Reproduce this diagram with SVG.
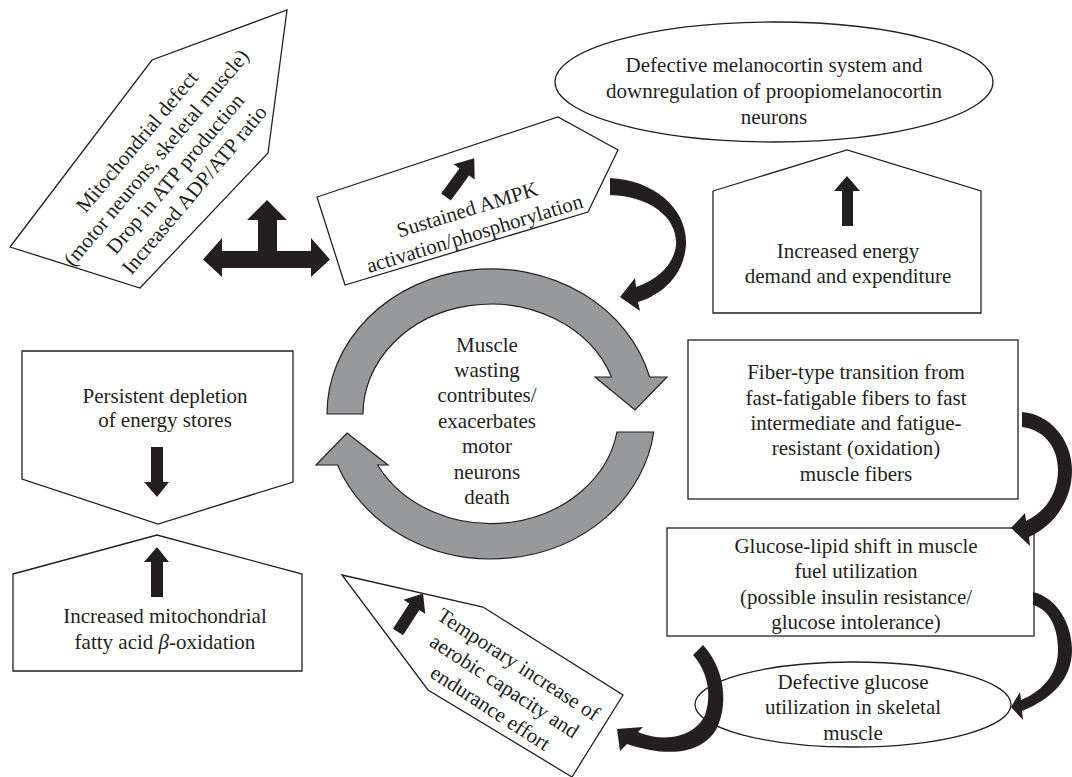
<svg xmlns="http://www.w3.org/2000/svg" width="1072" height="777" viewBox="0 0 1072 777">
<defs>
<style>
.box{fill:#fff;stroke:#231f20;stroke-width:1.3}
.t{font-family:"Liberation Serif","Times New Roman",serif;font-size:21px;fill:#231f20;text-anchor:middle}
.blk{fill:#231f20;stroke:none}
.gray{fill:#98999b;stroke:#231f20;stroke-width:1.2}
</style>
</defs>
<rect width="1072" height="777" fill="#fff"/>

<g id="node-mito">
<polygon class="box" points="10,247 152,60 287,10 268,153 140,288"/>
<g transform="translate(166,166) rotate(-50)">
<text class="t" x="0" y="-31">Mitochondrial defect</text>
<text class="t" x="0" y="-6">(motor neurons, skeletal muscle)</text>
<text class="t" x="0" y="19">Drop in ATP production</text>
<text class="t" x="0" y="44">Increased ADP/ATP ratio</text>
</g>
</g>

<g id="node-ampk">
<polygon class="box" points="317,197 558,117 618,150 588,212 345,285"/>
<polygon class="blk" transform="translate(446,197) rotate(36)" points="-6,0 -6,-31 -13,-31 0,-48 13,-31 6,-31 6,0"/>
<g transform="translate(471,222) rotate(-17)">
<text class="t" x="0" y="-6">Sustained AMPK</text>
<text class="t" x="0" y="19">activation/phosphorylation</text>
</g>
</g>

<g id="node-melanocortin">
<ellipse class="box" cx="774" cy="82" rx="219" ry="60"/>
<text class="t" x="774" y="72">Defective melanocortin system and</text>
<text class="t" x="774" y="98">downregulation of proopiomelanocortin</text>
<text class="t" x="774" y="124">neurons</text>
</g>

<g id="node-energy-demand">
<polygon class="box" points="713,191 847,150 981,191 981,313 713,313"/>
<polygon class="blk" points="842,226 842,191 834,191 847,176 860,191 853,191 853,226"/>
<text class="t" x="848" y="258">Increased energy</text>
<text class="t" x="848" y="283">demand and expenditure</text>
</g>

<g id="node-cycle">
<path class="gray" d="M327,414 A164,145 0 0 1 649.6,377 L667,377 L635,410 L595,377 L611.5,377 A128,110 0 0 0 363,414 Z"/>
<path class="gray" d="M653.7,432 A164,145 0 0 1 337.5,465 L316,465 L347,433 L388,465 L377.6,465 A128,110 0 0 0 617,432 Z"/>
<text class="t" x="487" y="352">Muscle</text>
<text class="t" x="487" y="377">wasting</text>
<text class="t" x="487" y="402">contributes/</text>
<text class="t" x="487" y="428">exacerbates</text>
<text class="t" x="487" y="453">motor</text>
<text class="t" x="487" y="479">neurons</text>
<text class="t" x="487" y="504">death</text>
</g>

<g id="node-fiber">
<rect class="box" x="688" y="340" width="330" height="159"/>
<text class="t" x="856" y="379">Fiber-type transition from</text>
<text class="t" x="856" y="405">fast-fatigable fibers to fast</text>
<text class="t" x="856" y="430">intermediate and fatigue-</text>
<text class="t" x="856" y="455">resistant (oxidation)</text>
<text class="t" x="856" y="481">muscle fibers</text>
</g>

<g id="node-glucose-lipid">
<rect class="box" x="667" y="528" width="367" height="108"/>
<text class="t" x="856" y="553">Glucose-lipid shift in muscle</text>
<text class="t" x="856" y="578">fuel utilization</text>
<text class="t" x="856" y="604">(possible insulin resistance/</text>
<text class="t" x="856" y="629">glucose intolerance)</text>
</g>

<g id="node-defective-glucose">
<ellipse class="box" cx="853" cy="704.5" rx="158" ry="42.5"/>
<text class="t" x="853" y="689">Defective glucose</text>
<text class="t" x="853" y="714">utilization in skeletal</text>
<text class="t" x="853" y="740">muscle</text>
</g>

<g id="node-temporary">
<polygon class="box" points="342,575 483,607 623,695 572,777 428,690"/>
<polygon class="blk" transform="translate(398,632) rotate(33)" points="-6,0 -6,-30 -13,-30 0,-46 13,-30 6,-30 6,0"/>
<g transform="translate(504,687) rotate(33)">
<text class="t" x="0" y="-20">Temporary increase of</text>
<text class="t" x="0" y="6">aerobic capacity and</text>
<text class="t" x="0" y="32">endurance effort</text>
</g>
</g>

<g id="node-depletion">
<polygon class="box" points="22,351 293,351 293,482 158,524 22,479"/>
<text class="t" x="165" y="403">Persistent depletion</text>
<text class="t" x="165" y="427">of energy stores</text>
<polygon class="blk" points="151,447 163,447 163,482 169,482 157,497 144,482 151,482"/>
</g>

<g id="node-beta-oxidation">
<polygon class="box" points="13,574 157,535 302,574 302,671 13,671"/>
<polygon class="blk" points="151,597 151,562 144,562 157,547 169,562 163,562 163,597"/>
<text class="t" x="165" y="623">Increased mitochondrial</text>
<text class="t" x="165" y="649">fatty acid <tspan font-style="italic">β</tspan>-oxidation</text>
</g>

<g id="connectors">
<path class="blk" d="M203,259.5 L222,238 L222,251 L258,251 L258,220 L247,220 L267,200 L287,220 L277,220 L277,251 L311,251 L311,238 L330,259.5 L311,277 L311,268 L222,268 L222,277 Z"/>
<path class="blk" d="M610,178 C655,180 688,210 686,245 C684,275 662,295 638,302 L640,311 L620,297 L635,278 L636,287 C657,280 674,265 676,245 C678,218 650,196 610,195 Z"/>
<path class="blk" d="M1022,412 C1050,414 1072,440 1072,470 C1072,500 1055,525 1029,537 L1030,546 L1011,528 L1025,513 L1026,521 C1045,512 1058,494 1058,470 C1058,448 1045,430 1022,427 Z"/>
<path class="blk" d="M1033,592 C1058,598 1072,625 1072,650 C1072,680 1050,700 1022,711 L1023,720 L1011,707 L1020,692 L1021,700 C1045,690 1058,672 1058,650 C1058,628 1050,610 1033,605 Z"/>
<path class="blk" d="M703,645 C722,665 730,700 717,728 C705,750 675,760 627,744 L620,751 L617,729 L643,727 L638,732 C670,745 697,733 705,715 C712,695 708,672 693,655 Z"/>
</g>
</svg>
